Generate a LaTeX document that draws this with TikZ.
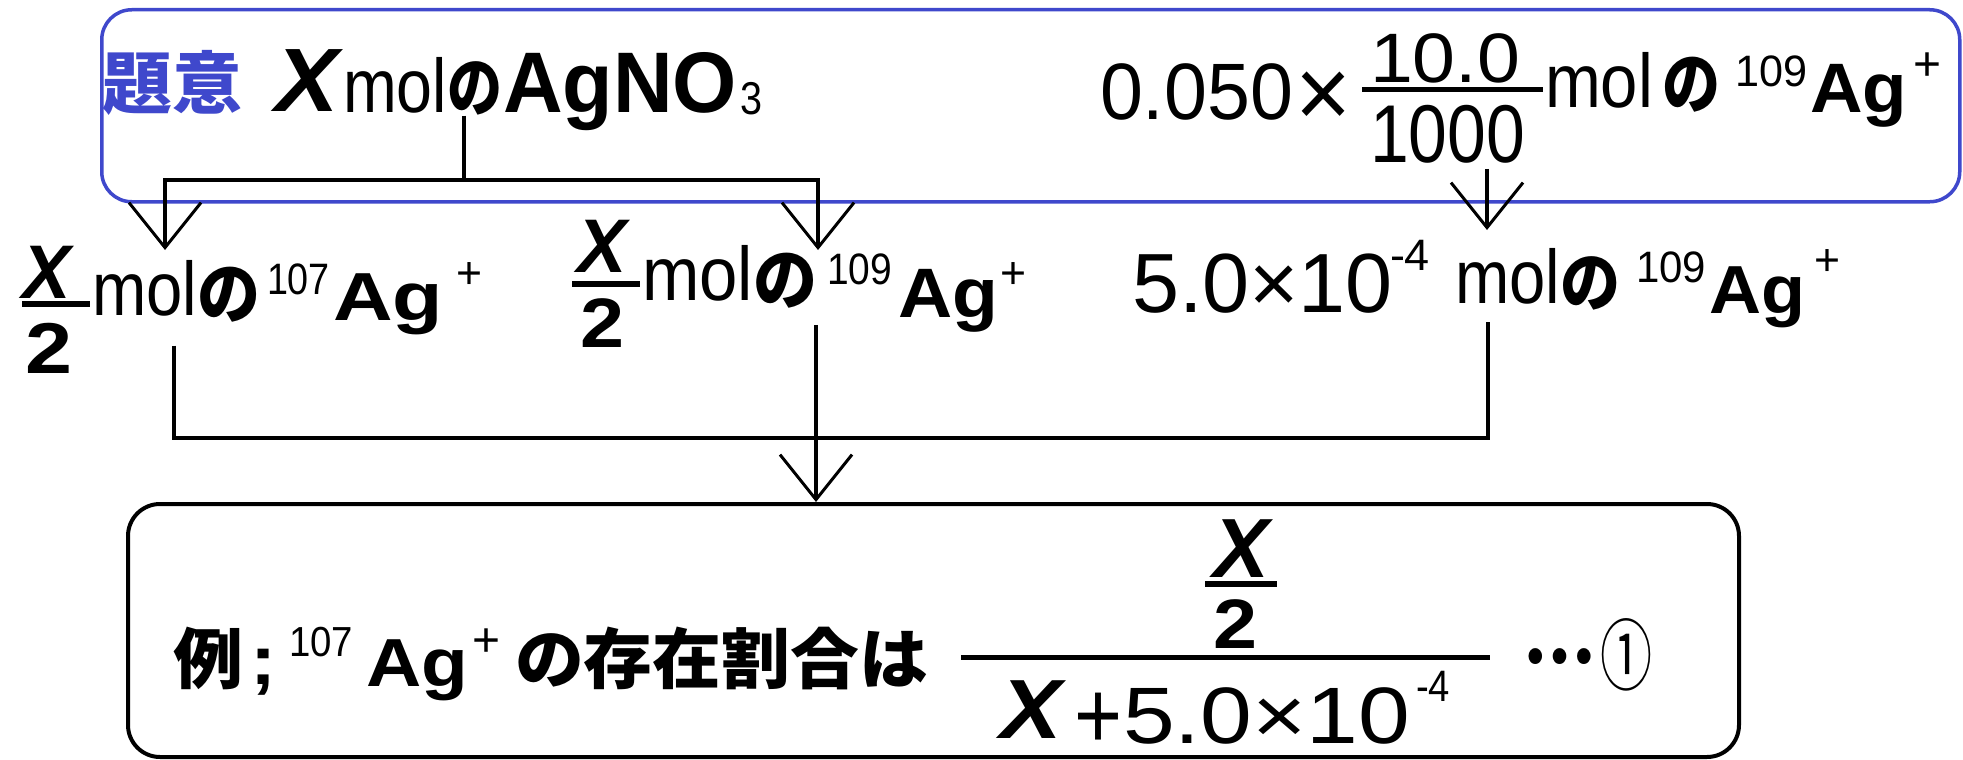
\documentclass[tikz,border=0pt]{standalone}
\usepackage{fontspec}
\usepackage{graphicx}
\setmainfont{Liberation Sans}
\newfontfamily\jpf{Noto Sans CJK JP}
\usetikzlibrary{arrows.meta}
\definecolor{boxblue}{RGB}{63,72,204}
\newcommand\fR{\normalfont}
\newcommand\fB{\normalfont\bfseries}
\newcommand\fBI{\normalfont\bfseries\itshape}
\newcommand\fJ{\jpf\bfseries}
\tikzset{
  pc/.style={inner sep=0pt, outer sep=0pt, anchor=base west},
  ln/.style={line width=4pt, black},
  arr/.style={ln, -{Straight Barb[length=45pt,width=72pt,line width=3pt]}},
  fbar/.style={line width=#1, black},
}
\newcommand\piece[6]{\node[pc] (#1) at (#2,#3) {\resizebox{#4pt}{\height}{\fontsize{#5pt}{#5pt}\selectfont #6}};}
\begin{document}
\begin{tikzpicture}[x=1pt,y=-1pt]
\fill[white] (0,0) rectangle (1963,760);
\useasboundingbox (0,0) rectangle (1963,760);

% boxes
\node[draw=boxblue, line width=3.5pt, rounded corners=30pt, minimum width=1858pt, minimum height=192pt, inner sep=0pt, anchor=north west] (topbox) at (100,8) {};
\node[draw=black, line width=4pt, rounded corners=32pt, minimum width=1611pt, minimum height=253pt, inner sep=0pt, anchor=north west] (botbox) at (126,502) {};

% top left
\piece{ti}{102}{108}{140}{68}{\color{boxblue}\fJ 題意}
\piece{tx}{275}{112}{68}{90}{\fBI X\/}
\piece{tm}{343}{112}{104}{76}{\fR mol}
\piece{tn}{447}{112}{55}{66}{\fJ の}
\piece{ta}{503}{112}{234}{86}{\fB AgNO}
\piece{tt}{740}{114}{22}{46}{\fR 3}

% top right
\piece{ra}{1100}{119}{193}{80}{\fR 0.050}
\piece{rx}{1295}{127}{56}{100}{\fR ×}
\piece{rn}{1370}{82}{150}{70}{\fR 10.0}
\piece{rd}{1370}{162}{155}{82}{\fR 1000}
\draw[fbar=5pt] (1362,89.5) -- (1543,89.5);
\piece{rm}{1545}{107}{108}{76}{\fR mol}
\piece{rno}{1662}{108}{58}{68}{\fJ の}
\piece{rnine}{1735}{86}{72}{44}{\fR 109}
\piece{rag}{1810}{112}{97}{70}{\fB Ag}
\piece{rp}{1913}{81}{28}{48}{\fR +}

% row 2, group 1
\piece{ax}{23}{298}{52}{76}{\fBI X\/}
\draw[fbar=6pt] (22,303.5) -- (90,303.5);
\piece{atwo}{25}{373}{47}{72}{\fB 2}
\piece{am}{92}{315}{105}{76}{\fR mol}
\piece{an}{197}{318}{63}{68}{\fJ の}
\piece{aseven}{267}{294}{63}{44}{\fR 107}
\piece{aag}{333}{320}{110}{68}{\fB Ag}
\piece{ap}{456}{288}{26}{45}{\fR +}

% row 2, group 2
\piece{bx}{577}{272}{53}{76}{\fBI X\/}
\draw[fbar=6pt] (572,283.5) -- (640,283.5);
\piece{btwo}{580}{347}{44}{70}{\fB 2}
\piece{bm}{642}{300}{111}{76}{\fR mol}
\piece{bn}{753}{304}{64}{68}{\fJ の}
\piece{bnine}{827}{284}{65}{44}{\fR 109}
\piece{bag}{898}{317}{100}{70}{\fB Ag}
\piece{bp}{1000}{288}{26}{45}{\fR +}

% row 2, group 3
\piece{cfive}{1132}{312}{261}{84}{\fR 5.0×10}
\piece{cfour}{1390}{270}{40}{44}{\fR -4}
\piece{cm}{1455}{303}{105}{76}{\fR mol}
\piece{cn}{1560}{306}{60}{66}{\fJ の}
\piece{cnine}{1636}{282}{70}{44}{\fR 109}
\piece{cag}{1709}{313}{96}{68}{\fB Ag}
\piece{cp}{1814}{275}{26}{45}{\fR +}

% bottom text
\piece{ea}{173}{683}{70}{66}{\fJ 例}
\piece{esemi}{250}{684}{26}{70}{\fB ;}
\piece{eseven}{289}{656}{64}{42}{\fR 107}
\piece{eag}{366}{686}{102}{68}{\fB Ag}
\piece{ep}{472}{656}{28}{48}{\fR +}
\piece{et}{515}{683}{413}{66}{\fJ の存在割合は}
\draw[fbar=5pt] (961,657) -- (1490,657);
\piece{fx}{1213}{577}{60}{84}{\fBI X\/}
\draw[fbar=6pt] (1205,583.5) -- (1277,583.5);
\piece{ftwo}{1213}{648}{44}{70}{\fB 2}
\piece{gx}{1000}{738}{66}{84}{\fBI X\/}
\piece{gp}{1074}{748}{48}{96}{\fR +}
\piece{gfive}{1123}{743}{287}{80}{\fR 5.0×10}
\piece{gfour}{1416}{701}{34}{44}{\fR -4}
\piece{dots}{1523}{680}{72}{72}{\fJ \raisebox{17pt}{…}}
\piece{circ}{1600}{684}{52}{78}{\jpf ①}

% connectors
\coordinate (sp) at (464,180);
\coordinate (tL) at (165,250);
\coordinate (tR) at (818,250);
\coordinate (tip3) at (1487,230);
\draw[ln] (tn.south -| sp) -- (sp);
\draw[arr] (sp) -| (tL);
\draw[arr] (sp) -| (tR);
\draw[arr, shorten <=6pt] (rd.south -| tip3) -- (tip3);

\coordinate (bL) at (174,438);
\coordinate (bR) at (1488,438);
\coordinate (bM) at (816,438);
\draw[ln, shorten <=30pt, shorten >=18pt] (am.south -| bL) -- (bL) -- (bR) -- (cm.south -| bR);
\draw[arr, shorten <=17pt] (bn.south -| bM) -- (botbox.north -| bM);
\end{tikzpicture}
\end{document}
